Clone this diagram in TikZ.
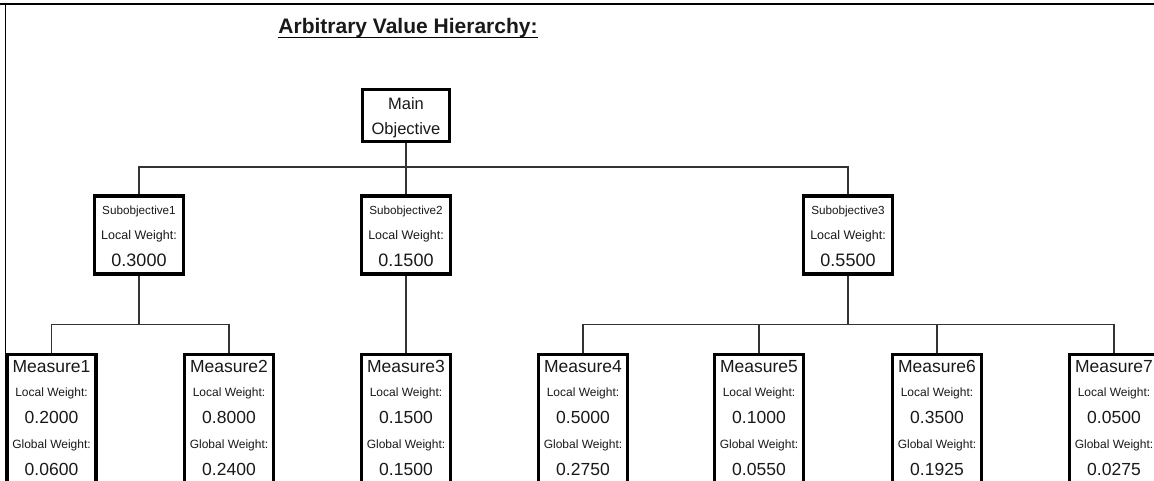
\documentclass[tikz,border=0pt]{standalone}
\usepackage{fontspec}
\setmainfont{Liberation Sans}
\newcommand\fsz[1]{\fontsize{#1}{#1}\selectfont}
\begin{document}
\begin{tikzpicture}[x=1pt,y=-1pt,
  box/.style={draw=black, line width=3.4pt, fill=white, inner sep=0pt, rectangle},
  conn/.style={draw=black!80, line width=1.2pt},
  txt/.style={anchor=base, inner sep=0pt, text=black!90}]
\useasboundingbox (0,0) rectangle (1154,481);
\clip (0,0) rectangle (1154,481);
\fill[white] (0,0) rectangle (1154,481);
% frame
\draw[line width=2.5pt] (0,4) -- (1154,4);
\draw[line width=1.6pt] (5.5,4) -- (5.5,481);
% title
\node[txt, font=\bfseries\fsz{21}] (title) at (408,34) {Arbitrary Value Hierarchy:};
\draw[line width=1.3pt] ([yshift=-3.5pt]title.base west) -- ([yshift=-3.5pt]title.base east);
% bars
\coordinate (barA) at (0,167);
\coordinate (barB) at (0,324.5);
% main
\node[box, minimum width=86.6pt, minimum height=51.6pt] (main) at (406,115.5) {};
\node[txt, font=\fsz{16.5}] (mainA) at (406,110) {Main};
\node[txt, font=\fsz{16.5}] (mainB) at (406,135) {Objective};
% subobjectives
\foreach \n/\x/\w in {1/139/0.3000, 2/406/0.1500, 3/848/0.5500}{
  \node[box, minimum width=89pt, minimum height=78pt] (sub\n) at (\x,235) {};
  \node[txt, font=\fsz{11.7}] (subA\n) at (\x,214.3) {Subobjective\n};
  \node[txt, font=\fsz{12.5}] (subB\n) at (\x,240) {Local Weight:};
  \node[txt, font=\fsz{18}] (subC\n) at (\x,266.7) {\w};
}
% measures
\foreach \n/\x/\l/\g in {1/51.5/0.2000/0.0600, 2/229/0.8000/0.2400, 3/406/0.1500/0.1500,
  4/583/0.5000/0.2750, 5/759/0.1000/0.0550, 6/937/0.3500/0.1925, 7/1114/0.0500/0.0275}{
  \node[box, anchor=north, minimum width=88.6pt, minimum height=200pt] (m\n) at (\x,352.7) {};
  \node[txt, font=\fsz{17.5}] (mA\n) at (\x,372.5) {Measure\n};
  \node[txt, font=\fsz{12}] (mB\n) at (\x,396.7) {Local Weight:};
  \node[txt, font=\fsz{17.5}] (mC\n) at (\x,423.3) {\l};
  \node[txt, font=\fsz{12}] (mD\n) at (\x,448.3) {Global Weight:};
  \node[txt, font=\fsz{17.5}] (mE\n) at (\x,475) {\g};
}
% connectors
\foreach \n in {1,2,3}{
  \draw[conn] (main.south) |- (sub\n.north |- barA) -- (sub\n.north);
}
\foreach \n in {1,2}{
  \draw[conn] (sub1.south) |- (m\n.north |- barB) -- (m\n.north);
}
\draw[conn] (sub2.south) -- (m3.north);
\foreach \n in {4,5,6,7}{
  \draw[conn] (sub3.south) |- (m\n.north |- barB) -- (m\n.north);
}
\end{tikzpicture}
\end{document}
